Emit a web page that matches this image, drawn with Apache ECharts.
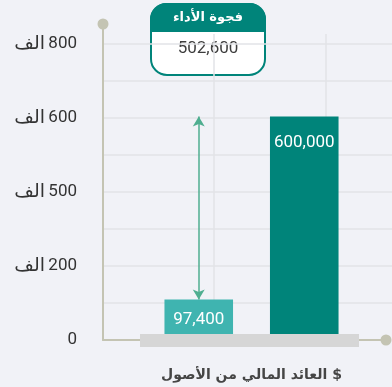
<!DOCTYPE html>
<html>
<head>
<meta charset="utf-8">
<script src="https://cdn.jsdelivr.net/npm/echarts@6/dist/echarts.min.js"></script>
<style>
  html, body { margin: 0; padding: 0; background: #f1f2f7; }
  #chart { width: 392px; height: 387px; direction: rtl; }
</style>
</head>
<body>
<div id="chart" dir="rtl"></div>
<script>
// Two bars: current return vs. target, with the gap between them called out
const categories = ['الحالي', 'المستهدف'];
const values = [97400, 600000];
const barColors = ['#3fb4b0', '#00847a'];

// Left axis ticks and their printed labels
const tickValues = [0, 200000, 400000, 600000, 800000];
const tickLabels = ['0', '200 الف', '500 الف', '600 الف', '800 الف'];

const axisTitle = '$ العائد المالي من الأصول';
const gapTitle = 'فجوة الأداء';

const fmt = v => Number(v).toLocaleString('en-US');
const gap = values[1] - values[0];

// Plot geometry (px): baseline, top tick, and where each grid starts
const H = 387, BOTTOM = 47, BASE_Y = H - BOTTOM, TOP_TICK_Y = 44;
const TOP_MAX = 800000;
const maxFor = top => TOP_MAX * (BASE_Y - top) / (BASE_Y - TOP_TICK_Y);
const yMaxAxis = maxFor(24);   // axis line runs a little above the top tick
const yMaxSplit = maxFor(34);

const NUM_FONT = 'Roboto, "DejaVu Sans", sans-serif';
const AR_FONT = '"DejaVu Sans", Roboto, sans-serif';

// "800 الف" -> unit drawn on the left, number on the right
function tickLabel(v) {
  const i = tickValues.indexOf(v);
  if (i < 0) return '';
  const parts = tickLabels[i].split(' ');
  if (parts.length < 2) return '{n|' + parts[0] + '}';
  return '{u|' + parts.slice(1).join(' ') + '} {n|' + parts[0] + '}';
}

const chart = echarts.init(document.getElementById('chart'), null, { renderer: 'canvas' });

chart.setOption({
  backgroundColor: '#f1f2f7',
  animation: false,
  grid: [
    // 0: axis lines + tick labels
    { left: 103, right: 6, top: 24, bottom: BOTTOM },
    // 1: split lines
    { left: 103, right: 0, top: 34, bottom: BOTTOM },
    // 2: bars
    { left: 146, right: 35, top: 24, bottom: BOTTOM },
    // 3: grey floor under the bars
    { left: 140, right: 33, top: 24, bottom: BOTTOM }
  ],
  xAxis: [
    {
      gridIndex: 0, type: 'value', min: 0, max: 1,
      axisLine: { show: true, symbol: ['none', 'circle'], symbolSize: [11, 11],
        lineStyle: { color: '#c4c4b3', width: 2 } },
      axisTick: { show: false }, axisLabel: { show: false }, splitLine: { show: false }
    },
    {
      gridIndex: 1, type: 'value', min: 0, max: 2.6, interval: 1,
      axisLine: { show: false }, axisTick: { show: false }, axisLabel: { show: false },
      splitLine: { show: true, showMinLine: false, showMaxLine: false,
        lineStyle: { color: '#e2e3e7', width: 1.5 } }
    },
    {
      gridIndex: 2, type: 'category', data: categories,
      axisLine: { show: false }, axisTick: { show: false }, axisLabel: { show: false },
      name: axisTitle, nameLocation: 'middle', nameGap: 33,
      nameTextStyle: { fontFamily: AR_FONT, fontWeight: 'bold', fontSize: 14, color: '#454545' }
    },
    {
      gridIndex: 3, type: 'category', data: categories, z: 5,
      axisLine: { show: true, lineStyle: { color: '#d6d6d6', width: 13, cap: 'butt' } },
      axisTick: { show: false }, axisLabel: { show: false }
    }
  ],
  yAxis: [
    {
      gridIndex: 0, type: 'value', min: 0, max: yMaxAxis, interval: 100000,
      axisLine: { show: true, symbol: ['none', 'circle'], symbolSize: [11, 11],
        lineStyle: { color: '#c4c4b3', width: 2 } },
      axisTick: { show: false },
      splitLine: { show: false },
      axisLabel: {
        margin: 26, color: '#333',
        formatter: tickLabel,
        rich: {
          n: { fontSize: 17, fontFamily: NUM_FONT, color: '#333' },
          u: { fontSize: 19, fontFamily: AR_FONT, color: '#333' }
        }
      }
    },
    {
      gridIndex: 1, type: 'value', min: 0, max: yMaxSplit, interval: 100000,
      axisLine: { show: false }, axisTick: { show: false }, axisLabel: { show: false },
      splitLine: { show: true, showMinLine: false, showMaxLine: false,
        lineStyle: { color: '#e2e3e7', width: 1.5 } }
    },
    {
      gridIndex: 2, type: 'value', min: 0, max: yMaxAxis, show: false, splitLine: { show: false }
    },
    {
      gridIndex: 3, type: 'value', min: 0, max: yMaxAxis, show: false, splitLine: { show: false }
    }
  ],
  series: [
    {
      type: 'bar', xAxisIndex: 2, yAxisIndex: 2, barWidth: '65%',
      data: values.map((v, i) => ({
        value: v,
        itemStyle: { color: barColors[i] },
        label: { distance: i === 0 ? 12 : 18 }
      })),
      label: {
        show: true, position: 'insideTop', color: '#fff', fontSize: 17,
        fontFamily: NUM_FONT, formatter: p => fmt(p.value)
      },
      markLine: {
        silent: true,
        symbol: ['arrow', 'arrow'],
        symbolSize: [9, 10],
        label: { show: false },
        lineStyle: { color: '#4fae90', width: 1.5, type: 'solid' },
        data: [[
          { coord: [categories[0], values[1]] },
          { coord: [categories[0], values[0]] }
        ]]
      }
    }
  ],
  graphic: [
    {
      type: 'group', left: 150, top: 3, z: 10,
      children: [
        { type: 'rect', shape: { x: 1, y: 1, width: 114, height: 71, r: 16 },
          style: { fill: '#fff', stroke: '#00847a', lineWidth: 2 } },
        { type: 'rect', shape: { x: 0, y: 0, width: 116, height: 29, r: [16, 16, 0, 0] },
          style: { fill: '#00847a' } },
        { type: 'text', x: 58, y: 15,
          style: { text: gapTitle, fill: '#fff', font: 'bold 13px ' + AR_FONT,
            align: 'center', verticalAlign: 'middle' } },
        { type: 'text', x: 58, y: 46,
          style: { text: fmt(gap), fill: '#3d3d3d', font: '17px ' + NUM_FONT,
            align: 'center', verticalAlign: 'middle' } }
      ]
    }
  ]
});
</script>
</body>
</html>
